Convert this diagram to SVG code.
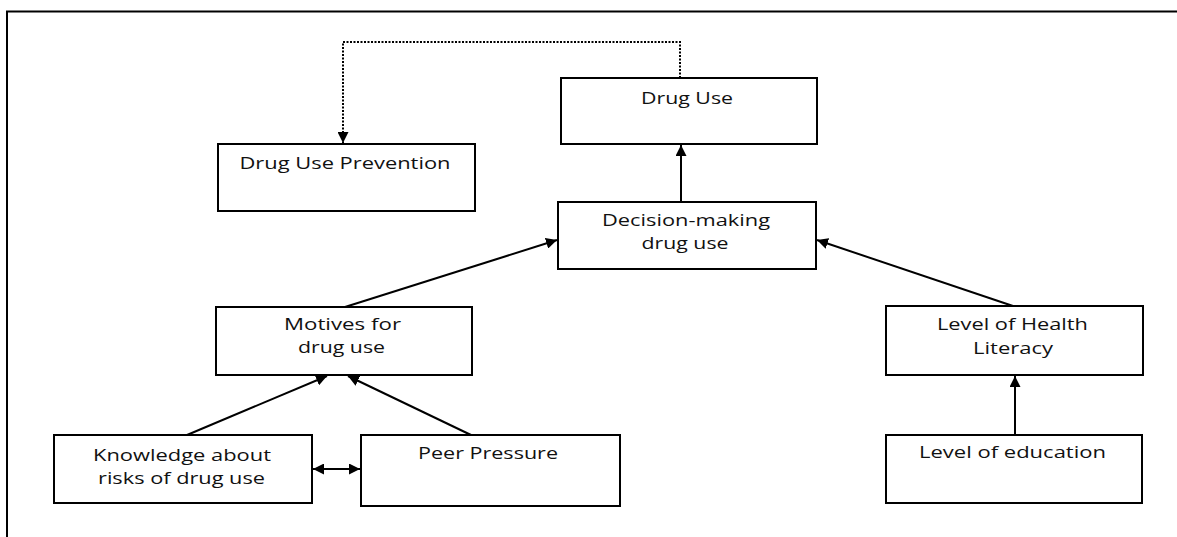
<svg xmlns="http://www.w3.org/2000/svg" width="1177" height="537" viewBox="0 0 1177 537">
<style>
.box{fill:#fff;stroke:#000;stroke-width:2}
.t{font-family:"Open Sans","Noto Sans",sans-serif;font-size:16.8px;font-weight:500;fill:#111;text-anchor:middle}
.c{fill:none;stroke:#000;stroke-width:2}
.d{fill:none;stroke:#000;stroke-width:2;stroke-dasharray:2 1.5}
</style>
<defs>
<marker id="ah" markerUnits="userSpaceOnUse" viewBox="0 0 10 10" refX="10" refY="5" markerWidth="11" markerHeight="11" orient="auto-start-reverse">
<path d="M0,0 L10,5 L0,10 z" fill="#000"/>
</marker>
</defs>
<rect width="1177" height="537" fill="#fff"/>
<g id="frame"><path d="M7,537 V11.5 H1177" fill="none" stroke="#000" stroke-width="2"/></g>
<g id="connectors">
<path class="d" d="M680,78 V42 H343 V143" marker-end="url(#ah)"/>
<line class="c" x1="681" y1="202" x2="681" y2="145" marker-end="url(#ah)"/>
<line class="c" x1="345" y1="307" x2="557" y2="240" marker-end="url(#ah)"/>
<line class="c" x1="1013" y1="306" x2="817" y2="240" marker-end="url(#ah)"/>
<line class="c" x1="187" y1="435" x2="327" y2="376" marker-end="url(#ah)"/>
<line class="c" x1="471" y1="435" x2="348" y2="376" marker-end="url(#ah)"/>
<line class="c" x1="1015" y1="435" x2="1015" y2="376" marker-end="url(#ah)"/>
<line class="c" x1="313" y1="469" x2="360" y2="469" marker-start="url(#ah)" marker-end="url(#ah)"/>
</g>
<g id="drug-use"><rect class="box" x="561" y="78" width="256" height="66"/><text class="t" x="687" y="104" textLength="92" lengthAdjust="spacingAndGlyphs">Drug Use</text></g>
<g id="drug-use-prevention"><rect class="box" x="218" y="144" width="257" height="67"/><text class="t" x="345" y="169" textLength="211" lengthAdjust="spacingAndGlyphs">Drug Use Prevention</text></g>
<g id="decision-making"><rect class="box" x="558" y="202" width="258" height="67"/><text class="t" x="686" y="226" textLength="168" lengthAdjust="spacingAndGlyphs">Decision-making</text><text class="t" x="685" y="249" textLength="87" lengthAdjust="spacingAndGlyphs">drug use</text></g>
<g id="motives"><rect class="box" x="216" y="307" width="256" height="68"/><text class="t" x="342.5" y="330" textLength="117" lengthAdjust="spacingAndGlyphs">Motives for</text><text class="t" x="341.5" y="353" textLength="87" lengthAdjust="spacingAndGlyphs">drug use</text></g>
<g id="health-literacy"><rect class="box" x="886" y="306" width="257" height="69"/><text class="t" x="1012.5" y="330" textLength="151" lengthAdjust="spacingAndGlyphs">Level of Health</text><text class="t" x="1013" y="354" textLength="80" lengthAdjust="spacingAndGlyphs">Literacy</text></g>
<g id="knowledge"><rect class="box" x="54" y="435" width="258" height="68"/><text class="t" x="182" y="461" textLength="178" lengthAdjust="spacingAndGlyphs">Knowledge about</text><text class="t" x="181.5" y="484" textLength="167" lengthAdjust="spacingAndGlyphs">risks of drug use</text></g>
<g id="peer-pressure"><rect class="box" x="361" y="435" width="259" height="71"/><text class="t" x="488" y="459" textLength="140" lengthAdjust="spacingAndGlyphs">Peer Pressure</text></g>
<g id="education"><rect class="box" x="886" y="435" width="256" height="68"/><text class="t" x="1012.5" y="458" textLength="187" lengthAdjust="spacingAndGlyphs">Level of education</text></g>
</svg>
